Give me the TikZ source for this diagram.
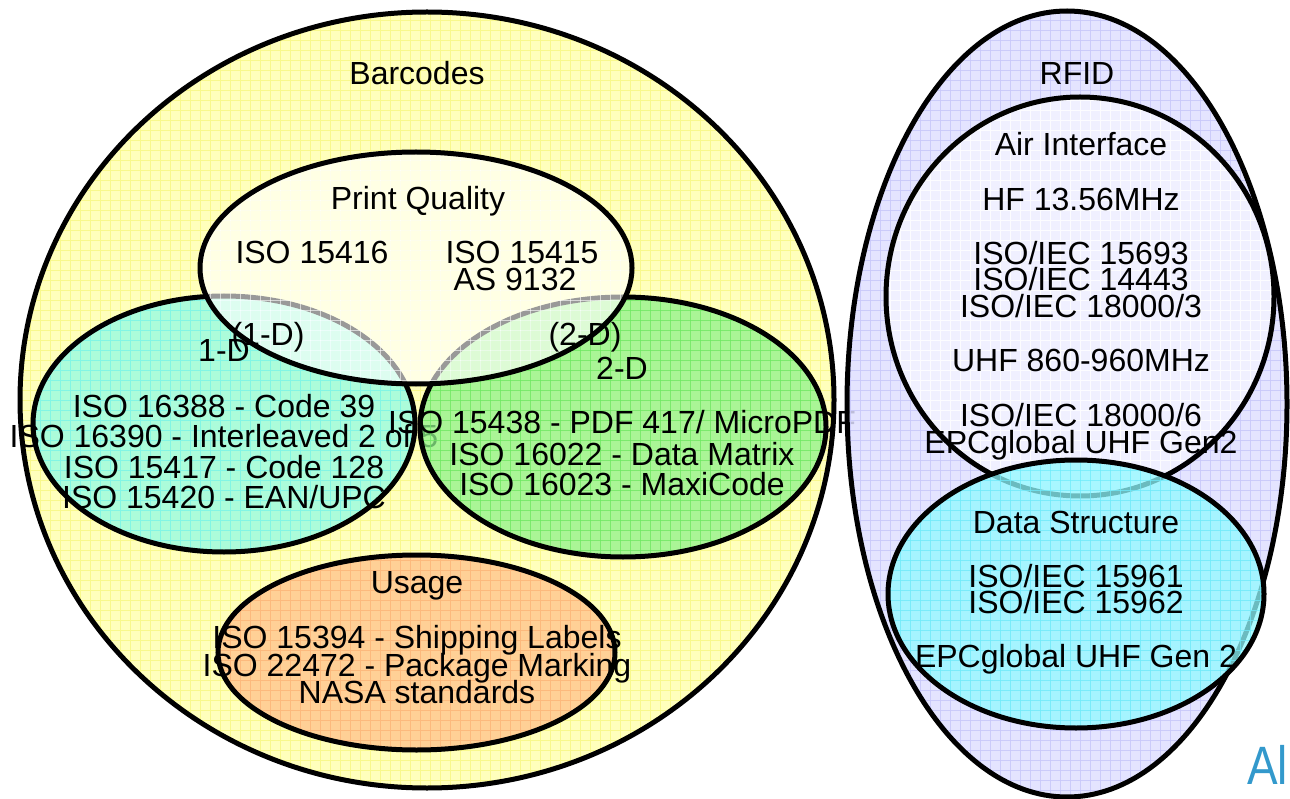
\documentclass[tikz,border=0pt]{standalone}
\usepackage{fontspec}
\setmainfont{Liberation Sans}

% fills and the faint grid lines laid over them
\definecolor{barfill}{RGB}{255,255,188}
\definecolor{bargrid}{RGB}{248,248,140}
\definecolor{onedfill}{RGB}{172,252,218}
\definecolor{onedgrid}{RGB}{130,245,228}
\definecolor{twodfill}{RGB}{142,242,138}
\definecolor{twodgrid}{RGB}{110,232,100}
\definecolor{usefill}{RGB}{255,208,150}
\definecolor{usegrid}{RGB}{252,185,125}
\definecolor{rfidfill}{RGB}{223,223,255}
\definecolor{rfidgrid}{RGB}{200,200,250}
\definecolor{airfill}{RGB}{240,240,255}
\definecolor{airgrid}{RGB}{252,252,255}
\definecolor{dsfill}{RGB}{144,250,255}
\definecolor{dsgrid}{RGB}{110,235,250}
\definecolor{logoblue}{RGB}{51,153,204}

% one set of the diagram: centre x, centre y, x radius, y radius,
% fill colour, grid colour, opacity
\newcommand\vennset[7]{%
  \begin{scope}
    \clip (#1,#2) ellipse [x radius=#3pt, y radius=#4pt];
    \fill[#5, fill opacity=#7] (#1-#3,#2-#4) rectangle (#1+#3,#2+#4);
    \foreach \gx in {0,10,...,1290}
      \draw[#6, line width=.7pt, draw opacity=#7] (\gx,#2-#4) -- (\gx,#2+#4);
    \foreach \gy in {0,10,...,800}
      \draw[#6, line width=.7pt, draw opacity=#7] (#1-#3,\gy) -- (#1+#3,\gy);
  \end{scope}
  \draw[outline] (#1,#2) ellipse [x radius=#3pt, y radius=#4pt];
}

\begin{document}
\begin{tikzpicture}[x=1pt, y=-1pt,
  outline/.style={draw=black, line width=5pt},
  lbl/.style={anchor=base, inner sep=0pt, font=\fontsize{32}{32}\selectfont}]
\useasboundingbox (0,0) rectangle (1290,799);

% ---------------- Barcodes ----------------
\coordinate (barC) at (427,400);
\vennset{427}{400}{407}{388}{barfill}{bargrid}{1}

% 1-D symbologies
\coordinate (odC) at (224,424);
\vennset{224}{424}{191}{128}{onedfill}{onedgrid}{1}
\node[lbl] (od1) at (224,417) {ISO 16388 - Code 39};
\node[lbl] (od2) at (224,447) {ISO 16390 - Interleaved 2 of 5};
\node[lbl] (od3) at (224,478) {ISO 15417 - Code 128};
\node[lbl] (od4) at (224,508) {ISO 15420 - EAN/UPC};

% 2-D symbologies
\coordinate (tdC) at (623,427);
\vennset{623}{427}{203}{130}{twodfill}{twodgrid}{.75}
\node[lbl] (td1) at (622,433) {ISO 15438 - PDF 417/ MicroPDF};
\node[lbl] (td2) at (622,465) {ISO 16022 - Data Matrix};
\node[lbl] (td3) at (622,495) {ISO 16023 - MaxiCode};

% print quality, lying over both symbology sets
\coordinate (pqC) at (416,268);
\vennset{416}{268}{216}{116}{white}{white}{.6}

% usage
\coordinate (useC) at (416,652);
\vennset{416.5}{652.5}{198.5}{97.5}{usefill}{usegrid}{1}
\node[lbl] (useT) at (417,593) {Usage};
\node[lbl] (use1) at (417,648) {ISO 15394 - Shipping Labels};
\node[lbl] (use2) at (417,676) {ISO 22472 - Package Marking};
\node[lbl] (use3) at (417,703) {NASA standards};

% ---------------- RFID ----------------
\coordinate (rfC) at (1067,404);
\vennset{1067}{404}{220}{393}{rfidfill}{rfidgrid}{.85}

% air interface
\coordinate (airC) at (1080,296);
\vennset{1080}{296.5}{194}{199.5}{airfill}{airgrid}{1}
\node[lbl] (airT) at (1081,156) {Air Interface};
\node[lbl] (air1) at (1081,211) {HF 13.56MHz};
\node[lbl] (air2) at (1081,265) {ISO/IEC 15693};
\node[lbl] (air3) at (1081,291) {ISO/IEC 14443};
\node[lbl] (air4) at (1081,318) {ISO/IEC 18000/3};
\node[lbl] (air5) at (1081,372) {UHF 860-960MHz};
\node[lbl] (air6) at (1081,426) {ISO/IEC 18000/6};
\node[lbl] (air7) at (1081,453) {EPCglobal UHF Gen2};

% data structure, lying over the air interface
\coordinate (dsC) at (1076,594);
\vennset{1076}{594}{188}{134}{dsfill}{dsgrid}{.75}
\node[lbl] (dsT) at (1076,533) {Data Structure};
\node[lbl] (ds1) at (1076,587) {ISO/IEC 15961};
\node[lbl] (ds2) at (1076,613) {ISO/IEC 15962};
\node[lbl] (ds3) at (1076,667) {EPCglobal UHF Gen 2};

% ---------------- set titles ----------------
\node[lbl] (barT) at (417,85) {Barcodes};
\node[lbl] (pqT)  at (418,210) {Print Quality};
\node[lbl] (pqA)  at (312,264) {ISO 15416};
\node[lbl] (pqB)  at (522,264) {ISO 15415};
\node[lbl] (pqD)  at (515,291) {AS 9132};
\node[lbl] (odP)  at (268,345) {(1-D)};
\node[lbl] (odT)  at (224,362) {1-D};
\node[lbl] (tdP)  at (585,345) {(2-D)};
\node[lbl] (tdT)  at (622,380) {2-D};
\node[lbl] (rfT)  at (1077,85) {RFID};

% corner mark, running off the right edge
\node[anchor=base west, inner sep=0pt, text=logoblue, xscale=.85,
      font=\fontsize{54}{54}\selectfont] (mark) at (1247,784) {Al};
\end{tikzpicture}
\end{document}
